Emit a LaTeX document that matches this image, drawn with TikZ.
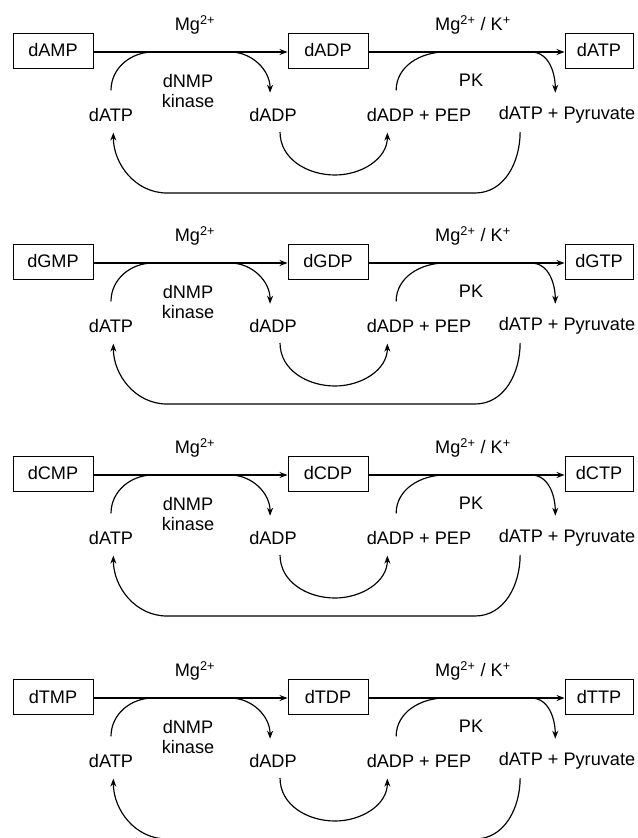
\documentclass[tikz,border=0pt]{standalone}
\usepackage{fontspec}
\setmainfont{Liberation Sans}
\usetikzlibrary{arrows.meta, positioning}

\tikzset{
	box/.style={draw, line width=0.8pt, minimum width=2.4cm, minimum height=1.05cm, inner sep=0pt},
	lbl/.style={inner sep=0pt},
	flow/.style={line width=1pt, -{Stealth[length=2.4mm, width=1.8mm]}}
}

\begin{document}
\begin{tikzpicture}[x=0.03cm, y=-0.03cm, font=\fontsize{15.5}{17}\selectfont]
		\useasboundingbox (0,0) rectangle (637,838);
		\foreach \y/\n in {0/A, 211/G, 423/C, 646/T}{
			% boxes:
			\node [box] (mp\n) at (53,50.5+\y) {d\n MP};
			\node [box] (dp\n) at (328,50.5+\y) {d\n DP};
			\node [box, minimum width=2.04cm] (tp\n) at (599,50.5+\y) {d\n TP};
			% labels:
			\node [lbl] (mgA\n) at (195,25+\y) {Mg\textsuperscript{2+}};
			\node [lbl] (mgB\n) at (473,25+\y) {Mg\textsuperscript{2+} / K\textsuperscript{+}};
			\node [lbl, align=center] (nmp\n) at (188,91+\y) {dNMP\\kinase};
			\node [lbl] (pk\n) at (471,80+\y) {PK};
			\node [lbl] (atpL\n) at (111,115+\y) {dATP};
			\node [lbl] (adpL\n) at (273,115+\y) {dADP};
			\node [lbl] (pep\n) at (419,115+\y) {dADP + PEP};
			\node [lbl] (pyr\n) at (567,115+\y) {dATP + Pyruvate};
			% main arrows
			\draw [flow] (mp\n.east|-0,52+\y)--(dp\n.west|-0,52+\y);
			\draw [flow] (dp\n.east|-0,52+\y)--(tp\n.west|-0,52+\y);
			% kinase loop
			\draw [flow] ([yshift=21pt]atpL\n.center) to [out=90, in=180] (153,52+\y) -- (230,52+\y) to [out=0, in=90] ([xshift=-2.5pt, yshift=19pt]adpL\n.center);
			\draw [flow] ([xshift=6pt, yshift=-14.5pt]adpL\n.center) to [out=-90, in=180] (335,175+\y) to [out=0, in=-90] ([xshift=-27pt, yshift=-15pt]pep\n.center);
			% PK loop
			\draw [flow] ([xshift=-19.5pt, yshift=21pt]pep\n.center) to [out=90, in=180] (445,52+\y) -- (531,52+\y) to [out=0, in=90] ([xshift=-10pt, yshift=19pt]pyr\n.center);
			\draw [flow] ([xshift=-40pt, yshift=-14.5pt]pyr\n.center) to [out=-90, in=0] (475,193+\y) -- (167,193+\y) to [out=180, in=-90] ([xshift=2pt, yshift=-15pt]atpL\n.center);
		}
\end{tikzpicture}
\end{document}
